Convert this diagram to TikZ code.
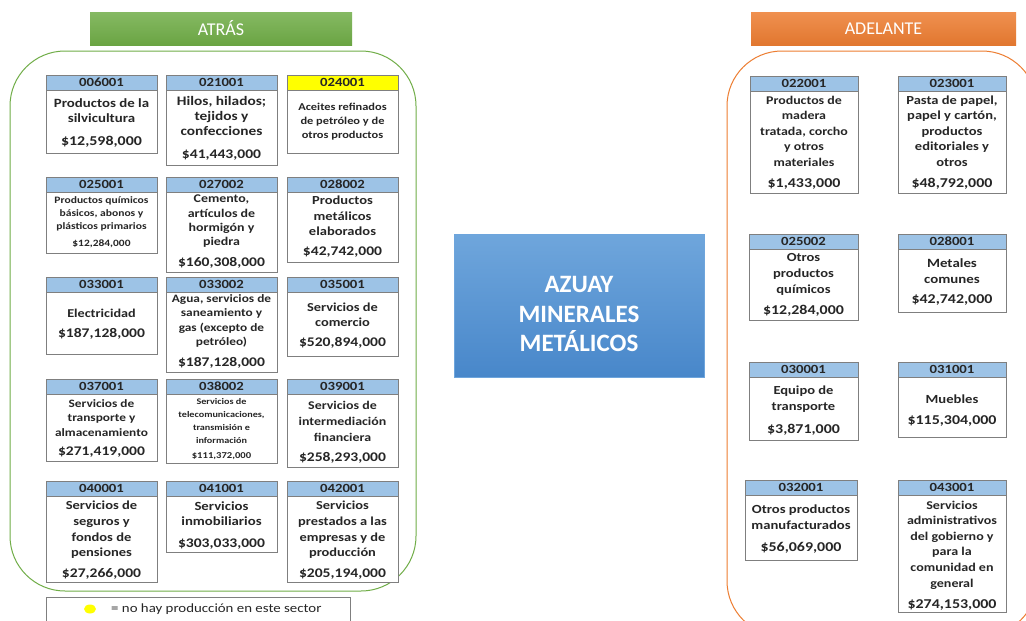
\documentclass[tikz,border=0pt]{standalone}
\usepackage{fontspec}
\setmainfont{Carlito}
\newfontfamily\cf{Carlito}[FakeStretch=1.18]
\usetikzlibrary{shadows,fit,shapes.geometric}
\definecolor{hdrblue}{HTML}{9DC3E6}
\definecolor{hdryel}{HTML}{FFFF00}
\definecolor{txt}{HTML}{262626}
\definecolor{pgreen}{HTML}{70AD47}
\definecolor{porange}{HTML}{ED7D31}
\definecolor{bordg}{HTML}{7F7F7F}
\newcommand\fs[2]{\cf\bfseries\fontsize{#1}{#2}\selectfont}
\tikzset{
  cardbox/.style={draw=bordg, line width=0.7pt, fill=white, inner sep=0pt,
    drop shadow={shadow xshift=1.3pt, shadow yshift=-1.3pt, opacity=0.3}},
  cardhdr/.style={draw=bordg, line width=0.7pt, inner sep=0pt},
  codetxt/.style={font=\fs{12.5}{14}, text=txt, inner sep=0pt},
  body/.style={font=\fs{12}{15}, text=txt, align=center, inner sep=0pt},
  amount/.style={font=\fs{13.2}{15}, text=txt, inner sep=0pt},
  panel/.style={line width=1pt, rounded corners=55pt},
  toptitle/.style={font=\fontsize{18}{20}\selectfont, text=white, inner sep=0pt},
}
\newcommand\crd[7]{%
  \node[cardbox, fit={(#2,#3) (#4,#5)}] (#1) {};
  \node[cardhdr, fill=#6, fit={(#2,#3) ({#4},{#3+15})}] (#1h) {};
  \node[codetxt] (#1c) at (#1h.center) {#7};
}
\begin{document}
\begin{tikzpicture}[x=1pt,y=-1pt]
\useasboundingbox (0,0) rectangle (1026,621);
\clip (0,0) rectangle (1026,621);
\fill[white] (0,0) rectangle (1026,621);

% headers
\node[fit={(90,12) (352,45)}, inner sep=0pt, top color=pgreen!85!white, bottom color=pgreen!95!black] (atras) {};
\node[toptitle] (atrast) at (atras.center) {ATRÁS};
\node[fit={(751,12) (1016,45)}, inner sep=0pt, top color=porange!85!white, bottom color=porange!95!black] (adel) {};
\node[toptitle] (adelt) at (adel.center) {ADELANTE};

% panels
\draw[panel, draw=pgreen] (10,51) rectangle (416,591);
\draw[panel, draw=porange] (727,51) rectangle (1037,636);

% center box
\node[fit={(454,234) (704,377)}, inner sep=0pt, draw={rgb,255:red,110;green,165;blue,220}, line width=0.6pt,
  top color={rgb,255:red,111;green,166;blue,220}, bottom color={rgb,255:red,72;green,135;blue,202}] (center) {};
\node[font=\bfseries\fontsize{25}{29.5}\selectfont, text=white, align=center, inner sep=0pt] (centert) at (579,314) {AZUAY\\MINERALES\\METÁLICOS};

% ---- left cards ----
\crd{c006001}{46}{75}{157}{153}{hdrblue}{006001}
\node[body, font=\fs{12.6}{15}] (c006001t) at (c006001.north |- 0,110.5) {Productos de la\\silvicultura};
\node[amount, font=\fs{13.5}{15}] (c006001a) at (c006001.north |- 0,142) {\$12,598,000};

\crd{c021001}{166}{75}{277}{165}{hdrblue}{021001}
\node[body, font=\fs{13}{15}] (c021001t) at (c021001.north |- 0,116) {Hilos, hilados;\\tejidos y\\confecciones};
\node[amount] (c021001a) at (c021001.north |- 0,155) {\$41,443,000};

\crd{c024001}{287}{75}{398}{153}{hdryel}{024001}
\node[body, font=\fs{10.5}{14}] (c024001t) at (c024001.north |- 0,122) {Aceites refinados\\de petróleo y de\\otros productos};

\crd{c025001}{46}{177}{157}{253}{hdrblue}{025001}
\node[body, font=\fs{9.8}{13}] (c025001t) at (c025001.north |- 0,214) {Productos químicos\\básicos, abonos y\\plásticos primarios};
\node[amount, font=\fs{9.7}{11}] (c025001a) at (c025001.north |- 0,244) {\$12,284,000};

\crd{c027002}{166}{177}{277}{272}{hdrblue}{027002}
\node[body, font=\fs{11.8}{14.3}] (c027002t) at (c027002.north |- 0,221.5) {Cemento,\\artículos de\\hormigón y\\piedra};
\node[amount] (c027002a) at (c027002.north |- 0,263) {\$160,308,000};

\crd{c028002}{287}{177}{398}{262}{hdrblue}{028002}
\node[body, font=\fs{12.3}{15.5}] (c028002t) at (c028002.north |- 0,216) {Productos\\metálicos\\elaborados};
\node[amount] (c028002a) at (c028002.north |- 0,252) {\$42,742,000};

\crd{c033001}{46}{277}{157}{354}{hdrblue}{033001}
\node[body, font=\fs{12}{15}] (c033001t) at (c033001.north |- 0,313) {Electricidad};
\node[amount] (c033001a) at (c033001.north |- 0,334) {\$187,128,000};

\crd{c033002}{166}{277}{277}{372}{hdrblue}{033002}
\node[body, font=\fs{11.3}{14.3}] (c033002t) at (c033002.north |- 0,321) {Agua, servicios de\\saneamiento y\\gas (excepto de\\petróleo)};
\node[amount] (c033002a) at (c033002.north |- 0,363) {\$187,128,000};

\crd{c035001}{287}{277}{398}{356}{hdrblue}{035001}
\node[body, font=\fs{12.2}{15}] (c035001t) at (c035001.north |- 0,314.5) {Servicios de\\comercio};
\node[amount] (c035001a) at (c035001.north |- 0,343) {\$520,894,000};

\crd{c037001}{46}{379}{157}{461}{hdrblue}{037001}
\node[body, font=\fs{11.3}{14.5}] (c037001t) at (c037001.north |- 0,418) {Servicios de\\transporte y\\almacenamiento};
\node[amount] (c037001a) at (c037001.north |- 0,452) {\$271,419,000};

\crd{c038002}{166}{379}{277}{463}{hdrblue}{038002}
\node[body, font=\fs{8.6}{13}] (c038002t) at (c038002.north |- 0,421.5) {Servicios de\\telecomunicaciones,\\transmisión e\\información};
\node[amount, font=\fs{9}{10}] (c038002a) at (c038002.north |- 0,456) {\$111,372,000};

\crd{c039001}{287}{379}{398}{467}{hdrblue}{039001}
\node[body, font=\fs{11.8}{16}] (c039001t) at (c039001.north |- 0,421) {Servicios de\\intermediación\\financiera};
\node[amount] (c039001a) at (c039001.north |- 0,458) {\$258,293,000};

\crd{c040001}{46}{481}{157}{582}{hdrblue}{040001}
\node[body, font=\fs{12.3}{15.7}] (c040001t) at (c040001.north |- 0,530) {Servicios de\\seguros y\\fondos de\\pensiones};
\node[amount] (c040001a) at (c040001.north |- 0,574) {\$27,266,000};

\crd{c041001}{166}{481}{277}{552}{hdrblue}{041001}
\node[body, font=\fs{12.5}{15}] (c041001t) at (c041001.north |- 0,513.5) {Servicios\\inmobiliarios};
\node[amount] (c041001a) at (c041001.north |- 0,544) {\$303,033,000};

\crd{c042001}{287}{481}{398}{582}{hdrblue}{042001}
\node[body, font=\fs{12.2}{15.7}] (c042001t) at (c042001.north |- 0,530) {Servicios\\prestados a las\\empresas y de\\producción};
\node[amount] (c042001a) at (c042001.north |- 0,574) {\$205,194,000};

% ---- right cards ----
\crd{c022001}{750}{76}{858}{193}{hdrblue}{022001}
\node[body, font=\fs{11.8}{15.5}] (c022001t) at (c022001.north |- 0,131) {Productos de\\madera\\tratada, corcho\\y otros\\materiales};
\node[amount, font=\fs{13.5}{15}] (c022001a) at (c022001.north |- 0,184) {\$1,433,000};

\crd{c023001}{898}{76}{1006}{193}{hdrblue}{023001}
\node[body, font=\fs{12.3}{15.5}] (c023001t) at (c023001.north |- 0,131) {Pasta de papel,\\papel y cartón,\\productos\\editoriales y\\otros};
\node[amount, font=\fs{13.5}{15}] (c023001a) at (c023001.north |- 0,184) {\$48,792,000};

\crd{c025002}{749}{234}{858}{320}{hdrblue}{025002}
\node[body, font=\fs{12.3}{16}] (c025002t) at (c025002.north |- 0,274) {Otros\\productos\\químicos};
\node[amount, font=\fs{13.5}{15}] (c025002a) at (c025002.north |- 0,311) {\$12,284,000};

\crd{c028001}{898}{234}{1006}{312}{hdrblue}{028001}
\node[body, font=\fs{12.6}{16}] (c028001t) at (c028001.north |- 0,271) {Metales\\comunes};
\node[amount, font=\fs{13.5}{15}] (c028001a) at (c028001.north |- 0,300) {\$42,742,000};

\crd{c030001}{749}{362}{858}{440}{hdrblue}{030001}
\node[body, font=\fs{12.3}{16}] (c030001t) at (c030001.north |- 0,399) {Equipo de\\transporte};
\node[amount, font=\fs{13.5}{15}] (c030001a) at (c030001.north |- 0,430) {\$3,871,000};

\crd{c031001}{898}{362}{1006}{437}{hdrblue}{031001}
\node[body, font=\fs{12.4}{15}] (c031001t) at (c031001.north |- 0,399) {Muebles};
\node[amount, font=\fs{13.5}{15}] (c031001a) at (c031001.north |- 0,421) {\$115,304,000};

\crd{c032001}{745}{480}{857}{560}{hdrblue}{032001}
\node[body, font=\fs{12.4}{16}] (c032001t) at (c032001.north |- 0,517) {Otros productos\\manufacturados};
\node[amount, font=\fs{13.5}{15}] (c032001a) at (c032001.north |- 0,548) {\$56,069,000};

\crd{c043001}{898}{480}{1006}{612}{hdrblue}{043001}
\node[body, font=\fs{11.9}{15.6}] (c043001t) at (c043001.north |- 0,545) {Servicios\\administrativos\\del gobierno y\\para la\\comunidad en\\general};
\node[amount, font=\fs{13.5}{15}] (c043001a) at (c043001.north |- 0,605) {\$274,153,000};

% legend
\node[fit={(46,597) (350,630)}, inner sep=0pt, draw=bordg, line width=0.7pt] (legend) {};
\node[ellipse, fill=hdryel, minimum width=12pt, minimum height=9pt, inner sep=0pt] (legdot) at (90,609) {};
\node[anchor=west, font=\cf\fontsize{12.6}{14}\selectfont, text=txt, inner sep=0pt] (legt) at (111,609) {= no hay producción en este sector};
\end{tikzpicture}
\end{document}
